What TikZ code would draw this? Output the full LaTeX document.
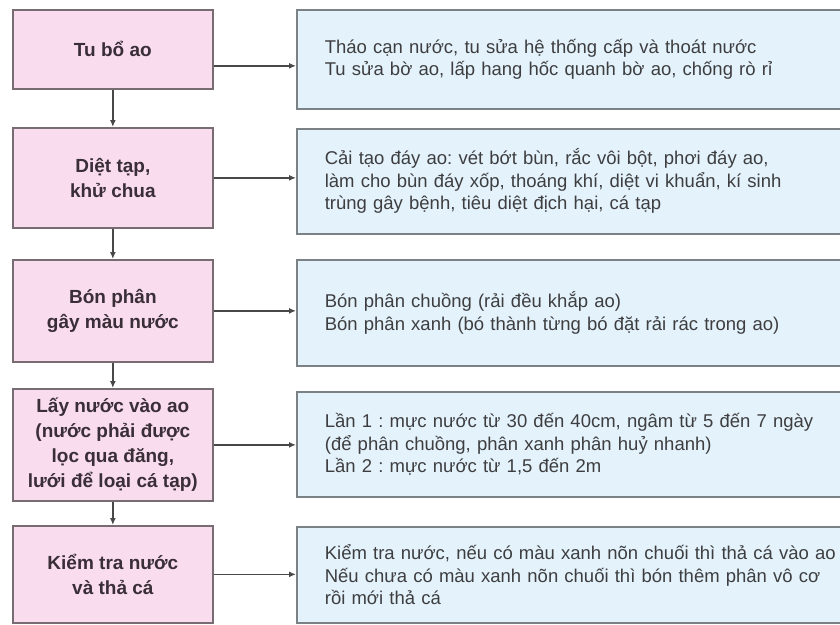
\documentclass[tikz,border=0pt]{standalone}
\usepackage{fontspec}
\setmainfont{Liberation Sans}
\usetikzlibrary{arrows.meta}
\definecolor{hongnhat}{RGB}{249,221,238}
\definecolor{xanhnhat}{RGB}{227,242,251}
\definecolor{vientrai}{RGB}{118,108,114}
\definecolor{vienphai}{RGB}{122,130,134}
\definecolor{chudam}{RGB}{58,46,56}
\definecolor{chuthuong}{RGB}{62,62,64}
\definecolor{muiten}{RGB}{72,72,72}
\frenchspacing

\begin{document}
\begin{tikzpicture}[x=1pt,y=-1pt,line width=1.7pt,>={Latex[length=7pt,width=6pt]},
  buoc/.style={draw=vientrai,fill=hongnhat,anchor=north west,minimum width=200pt,
    inner sep=0pt,align=center,text=chudam,font=\fontsize{19}{25}\selectfont\bfseries},
  noidung/.style={draw=vienphai,fill=xanhnhat,anchor=north west,inner xsep=28pt,inner ysep=0pt,
    text width=540pt,align=left,text=chuthuong,font=\fontsize{18.5}{22.5}\selectfont},
  noi/.style={->,draw=muiten,line width=1.5pt}]
  \useasboundingbox (0,0) rectangle (840,624);
  % cac buoc chuan bi ao
  \node[buoc,minimum height=79pt] (l1) at (12,9) {Tu bổ ao};
  \node[buoc,minimum height=100pt] (l2) at (12,127) {Diệt tạp,\\khử chua};
  \node[buoc,minimum height=102pt] (l3) at (12,259) {Bón phân\\gây màu nước};
  \node[buoc,minimum height=112pt] (l4) at (12,388) {Lấy nước vào ao\\(nước phải được\\lọc qua đăng,\\lưới để loại cá tạp)};
  \node[buoc,minimum height=97pt] (l5) at (12,525) {Kiểm tra nước\\và thả cá};
  % noi dung tung buoc
  \node[noidung,minimum height=99pt] (r1) at (296,9) {Tháo cạn nước, tu sửa hệ thống cấp và thoát nước\\Tu sửa bờ ao, lấp hang hốc quanh bờ ao, chống rò rỉ};
  \node[noidung,minimum height=105pt] (r2) at (296,128) {Cải tạo đáy ao: vét bớt bùn, rắc vôi bột, phơi đáy ao,\\làm cho bùn đáy xốp, thoáng khí, diệt vi khuẩn, kí sinh\\trùng gây bệnh, tiêu diệt địch hại, cá tạp};
  \node[noidung,minimum height=106pt] (r3) at (296,259) {Bón phân chuồng (rải đều khắp ao)\\Bón phân xanh (bó thành từng bó đặt rải rác trong ao)};
  \node[noidung,minimum height=105pt] (r4) at (296,391) {Lần 1 : mực nước từ 30 đến 40cm, ngâm từ 5 đến 7 ngày\\(để phân chuồng, phân xanh phân huỷ nhanh)\\Lần 2 : mực nước từ 1,5 đến 2m};
  \node[noidung,minimum height=96pt] (r5) at (296,526) {Kiểm tra nước, nếu có màu xanh nõn chuối thì thả cá vào ao\\Nếu chưa có màu xanh nõn chuối thì bón thêm phân vô cơ\\rồi mới thả cá};
  \draw[noi] (l1) -- (l2);
  \draw[noi] (l2) -- (l3);
  \draw[noi] (l3) -- (l4);
  \draw[noi] (l4) -- (l5);
  \draw[noi] ([yshift=-16.5pt]l1.east) -- ([yshift=-16.5pt]l1.east -| r1.west);
  \draw[noi] (l2) -- (l2 -| r2.west);
  \draw[noi] (l3) -- (l3 -| r3.west);
  \draw[noi] (l4) -- (l4 -| r4.west);
  \draw[noi] (l5) -- (l5 -| r5.west);
\end{tikzpicture}
\end{document}
